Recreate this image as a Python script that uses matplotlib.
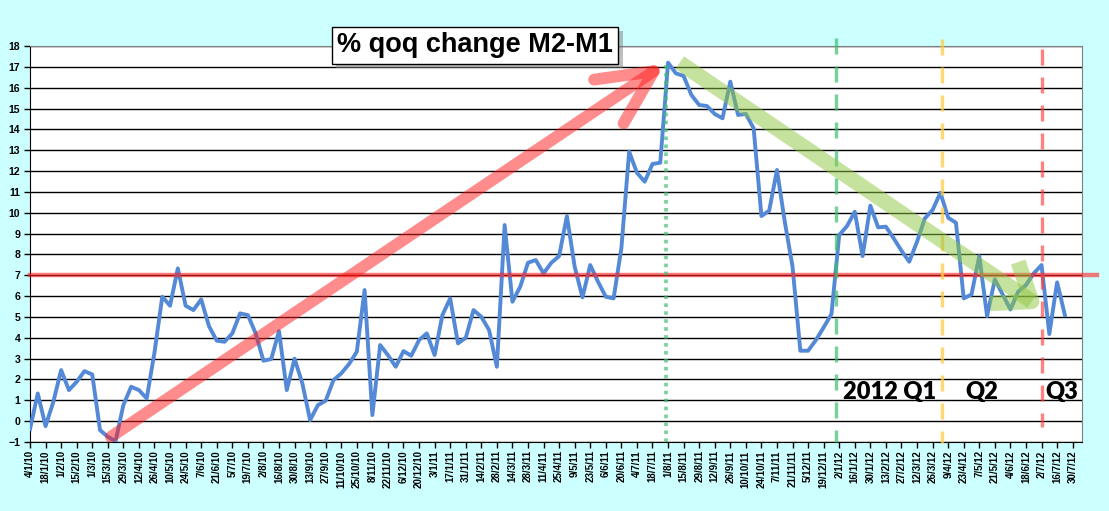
import numpy as np
import pandas as pd
import matplotlib
matplotlib.use("Agg")
import matplotlib.pyplot as plt
from matplotlib import patheffects
from matplotlib.patches import ArrowStyle

# weekly series, % qoq change M2-M1
start_date = "2010-01-04"
values = [
    -0.38, 1.33, -0.24, 0.93, 2.45, 1.49, 1.89, 2.40, 2.24, -0.43,
    -0.75, -0.96, 0.77, 1.65, 1.49, 1.09, 3.30, 5.97, 5.54, 7.33,
    5.54, 5.33, 5.84, 4.56, 3.86, 3.81, 4.21, 5.17, 5.09, 4.21,
    2.90, 2.98, 4.32, 1.49, 3.00, 1.81, 0.05, 0.77, 0.98, 1.97,
    2.29, 2.74, 3.33, 6.29, 0.29, 3.65, 3.17, 2.61, 3.36, 3.14,
    3.89, 4.21, 3.17, 5.09, 5.89, 3.73, 4.00, 5.33, 5.01, 4.37,
    2.61, 9.41, 5.73, 6.45, 7.60, 7.73, 7.09, 7.60, 7.92, 9.84,
    7.41, 5.94, 7.49, 6.69, 5.97, 5.89, 8.29, 12.93, 11.92, 11.49,
    12.34, 12.40, 17.20, 16.69, 16.56, 15.65, 15.17, 15.12, 14.74, 14.53,
    16.29, 14.69, 14.74, 14.05, 9.84, 10.10, 12.05, 9.57, 7.41, 3.38,
    3.38, 3.89, 4.50, 5.14, 8.93, 9.36, 10.05, 7.92, 10.34, 9.30,
    9.33, 8.77, 8.18, 7.65, 8.61, 9.73, 10.13, 10.96, 9.76, 9.52,
    5.89, 6.08, 7.92, 5.04, 6.80, 6.08, 5.36, 6.21, 6.53, 7.09,
    7.49, 4.18, 6.66, 5.09,
]
n_weeks = 135  # axis runs to 30/7/12
dates = pd.date_range(start_date, periods=n_weeks, freq="7D")
tick_idx = list(range(0, n_weeks, 2))
tick_labels = [f"{d.day}/{d.month}/{d.strftime('%y')}" for d in dates[tick_idx]]

# annotation positions (week index / value)
level_line = 7
q_lines = {"start2012": 103.6, "q2": 117.15, "q3": 130.0}
peak_week = 81.75
up_arrow = ((10.4, -0.75), (81.6, 17.15))
down_arrow = ((83.5, 17.2), (130.1, 5.4))

bg = "#ccffff"
fig = plt.figure(figsize=(11.09, 5.11), dpi=100, facecolor=bg)
ax = fig.add_axes([30 / 1109, 1 - 442 / 511, 1052 / 1109, 396 / 511])
ax.set_facecolor("white")

x = np.arange(len(values))
ax.plot(x, values, color="#5389d6", lw=2.8, solid_joinstyle="round", zorder=3)

ax.set_xlim(0, 135.2)
ax.set_ylim(-1, 18)
ax.set_yticks(range(-1, 19))
ax.set_xticks(tick_idx)
ax.set_xticklabels(tick_labels, rotation=90, fontsize=7, fontweight="bold",
                   family="Liberation Sans")
for t in ax.get_yticklabels():
    t.set_fontsize(7.6)
    t.set_fontweight("bold")
    t.set_family("Liberation Sans")
ax.tick_params(axis="both", direction="out", length=4, width=1, pad=2)
ax.tick_params(axis="y", pad=3)
ax.yaxis.grid(True, color="black", lw=1)
ax.set_axisbelow(True)
for s in ["top", "right"]:
    ax.spines[s].set_color("#808080")
for s in ["left", "bottom"]:
    ax.spines[s].set_color("black")

# 7% reference line (runs past the plot on the right)
ax.plot([0, 137.1], [level_line, level_line], color="#ff2020", alpha=0.6, lw=3.2,
        clip_on=False, zorder=4)

# quarter markers
dash = (4.8, 3.6)
ax.plot([q_lines["start2012"]] * 2, [18.4, -1.0], color="#3dbf6e", alpha=0.7,
        lw=2.4, dashes=dash, clip_on=False, zorder=5)
ax.plot([q_lines["q2"]] * 2, [18.35, -1.05], color="#ffcc44", alpha=0.75,
        lw=2.4, dashes=dash, clip_on=False, zorder=5)
ax.plot([q_lines["q3"]] * 2, [17.85, -0.3], color="#ff4040", alpha=0.65,
        lw=2.4, dashes=dash, clip_on=False, zorder=5)
ax.plot([peak_week] * 2, [17.1, -1.0], color="#3dbf6e", alpha=0.7,
        lw=2.6, linestyle=(0, (1, 1.2)), zorder=5)

# trend arrows
ax.annotate("", xy=up_arrow[1], xytext=up_arrow[0],
            arrowprops=dict(arrowstyle=ArrowStyle("->", head_length=3.9, head_width=1.9),
                            color="#ff1a1a", alpha=0.5, lw=8.5, mutation_scale=10,
                            shrinkA=0, shrinkB=0, capstyle="round"),
            zorder=6)
ax.annotate("", xy=down_arrow[1], xytext=down_arrow[0],
            arrowprops=dict(arrowstyle=ArrowStyle("->", head_length=2.4, head_width=1.8),
                            color="#8cc63f", alpha=0.5, lw=11, mutation_scale=10,
                            shrinkA=0, shrinkB=0, capstyle="butt"),
            zorder=6)

# quarter labels
qkw = dict(fontsize=17, fontweight="heavy", family="Lato", va="baseline", zorder=7)
ax.text(104.5, 1.05, "2012 Q1", **qkw)
ax.text(120.2, 1.05, "Q2", **qkw)
ax.text(130.5, 1.05, "Q3", **qkw)

# title box
title = fig.text(475 / 1109, 1 - 45.5 / 511, "% qoq change M2-M1", ha="center",
                 va="center", fontsize=19.5, fontweight="bold", family="Liberation Sans",
                 bbox=dict(boxstyle="square,pad=0.2", fc="white", ec="black", lw=1),
                 zorder=10)
title.get_bbox_patch().set_path_effects(
    [patheffects.withSimplePatchShadow(offset=(3, -3), shadow_rgbFace="gray", alpha=0.5)])

fig.savefig("out.png", dpi=100, facecolor=bg)
